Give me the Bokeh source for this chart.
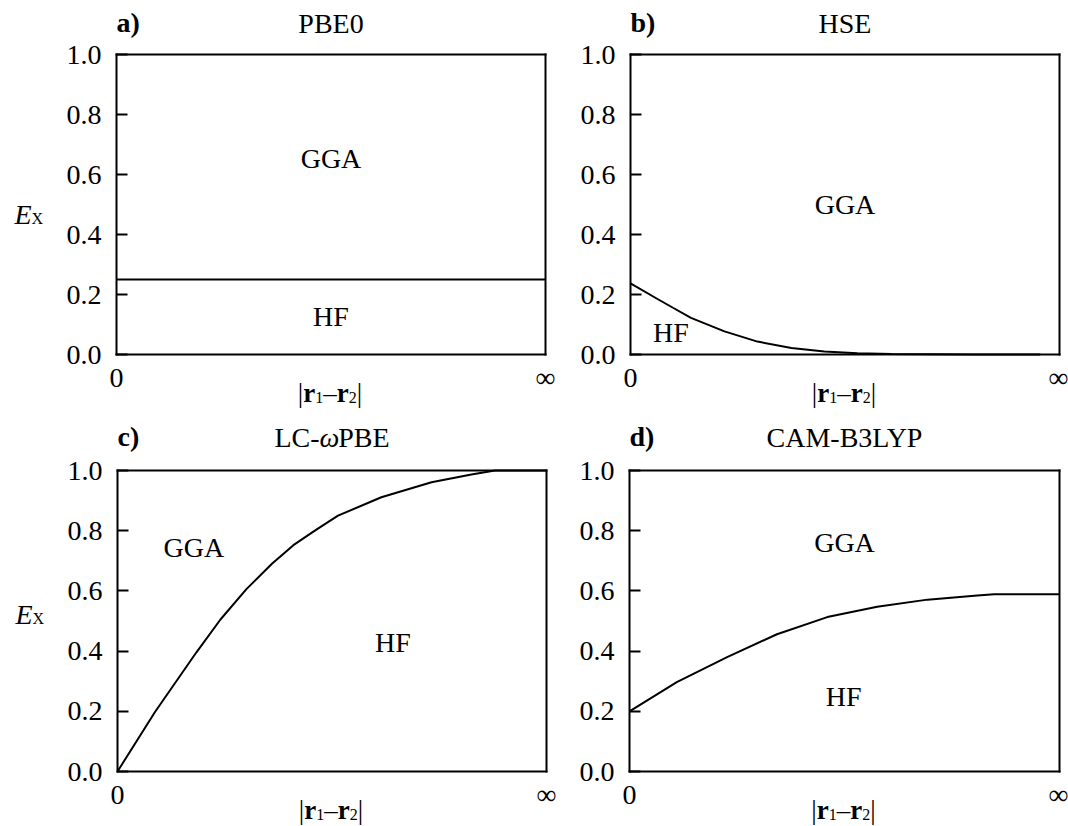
import numpy as np
from bokeh.plotting import figure
from bokeh.layouts import column, row
from bokeh.models import Range1d, FixedTicker, PrintfTickFormatter, LinearAxis
from bokeh.core.properties import value
from bokeh.embed import file_html
from bokeh.resources import INLINE

# ---------------- data ----------------
panel_letters = ["a)", "b)", "c)", "d)"]
panel_titles = ["PBE0", "HSE", "LC-ωPBE", "CAM-B3LYP"]
y_ticks = [0.0, 0.2, 0.4, 0.6, 0.8, 1.0]
x_ticks = [0, 1]
x_tick_labels = ["0", "∞"]

pbe0_x = [0.0, 1.0]
pbe0_y = [0.25, 0.25]

hse_x = [0.0, 0.063, 0.10, 0.141, 0.219, 0.296, 0.375, 0.452, 0.529, 0.608, 0.70, 0.80, 0.955]
hse_y = [0.237, 0.185, 0.155, 0.122, 0.077, 0.043, 0.022, 0.010, 0.004, 0.002, 0.001, 0.0, 0.0]

lc_x = [0.0, 0.087, 0.184, 0.24, 0.30, 0.36, 0.41, 0.46, 0.514, 0.615, 0.732, 0.825, 0.88, 1.0]
lc_y = [0.0, 0.197, 0.396, 0.505, 0.605, 0.69, 0.752, 0.80, 0.85, 0.911, 0.961, 0.987, 1.0, 1.0]

cam_x = [0.0, 0.11, 0.227, 0.343, 0.46, 0.576, 0.693, 0.809, 0.848, 1.0]
cam_y = [0.2, 0.297, 0.38, 0.456, 0.513, 0.547, 0.571, 0.585, 0.589, 0.589]

# region labels: (text, x, y) in data units (baseline, centred)
regions_a = [("GGA", 0.5, 0.655), ("HF", 0.5, 0.128)]
regions_b = [("GGA", 0.5, 0.50), ("HF", 0.094, 0.075)]
regions_c = [("GGA", 0.178, 0.744), ("HF", 0.642, 0.429)]
regions_d = [("GGA", 0.5, 0.76), ("HF", 0.498, 0.248)]

FONT = "Liberation Serif"
BIG = 28
LW = 2
SCALE = {}


def lab(p, x, y, text, dx=0, dy=0, size=BIG, style="normal", align="left"):
    sx, sy = SCALE[p.id]
    p.text(x=[x + dx / sx], y=[y + dy / sy], text=[text],
           text_font=value(FONT), text_font_size=value(f"{size}px"),
           text_font_style=value(style), text_align=value(align),
           text_baseline=value("alphabetic"), text_color="black")


def style_axis(ax):
    ax.axis_line_color = "black"
    ax.axis_line_width = LW
    ax.axis_line_cap = "square"
    ax.minor_tick_line_color = None
    ax.major_label_text_font = FONT
    ax.major_label_text_font_size = f"{BIG}px"
    ax.major_label_text_color = "black"


def make_fig(cell, frame):
    # cell and frame boxes in page pixels: (left, top, right, bottom)
    cx0, cy0, cx1, cy1 = cell
    fx0, fy0, fx1, fy1 = frame
    sx = fx1 - fx0
    sy = fy1 - fy0
    p = figure(width=cx1 - cx0, height=cy1 - cy0,
               x_range=Range1d((cx0 - fx0) / sx, (cx1 - fx0) / sx),
               y_range=Range1d((fy1 - cy1) / sy, (fy1 - cy0) / sy),
               min_border=0, min_border_left=0, min_border_right=0,
               min_border_top=0, min_border_bottom=0,
               x_axis_location=None, y_axis_location=None,
               output_backend="svg", toolbar_location=None, tools="")
    SCALE[p.id] = (sx, sy)
    p.grid.visible = False
    p.outline_line_color = None
    p.background_fill_color = "white"
    p.border_fill_color = "white"

    ya = LinearAxis(fixed_location=0, bounds=(0, 1),
                    ticker=FixedTicker(ticks=y_ticks),
                    formatter=PrintfTickFormatter(format="%.1f"))
    style_axis(ya)
    ya.major_tick_in = 11
    ya.major_tick_out = 0
    ya.major_tick_line_width = LW
    ya.major_tick_line_color = "black"
    ya.major_label_standoff = 15
    p.add_layout(ya, "left")

    xa = LinearAxis(fixed_location=0, bounds=(0, 1),
                    ticker=FixedTicker(ticks=x_ticks))
    style_axis(xa)
    xa.major_label_overrides = {t: s for t, s in zip(x_ticks, x_tick_labels)}
    xa.major_tick_line_color = None
    xa.major_tick_in = 0
    xa.major_tick_out = 0
    xa.major_label_standoff = 7
    p.add_layout(xa, "below")

    for loc in ("right", "above"):
        ax = LinearAxis(fixed_location=1, bounds=(0, 1),
                        ticker=FixedTicker(ticks=[]))
        style_axis(ax)
        ax.major_tick_line_color = None
        ax.major_label_text_color = None
        p.add_layout(ax, loc)
    return p


def x_label(p):
    # |r1–r2| built from pieces: (text, style, size, width, dy)
    pieces = [("|", "normal", 27, 5.4, 0), ("r", "bold", 27, 12.0, 0),
              ("1", "normal", 16, 8.0, -5), ("–", "normal", 27, 13.5, 0),
              ("r", "bold", 27, 12.0, 0), ("2", "normal", 16, 8.0, -5),
              ("|", "normal", 27, 5.4, 0)]
    total = sum(w for _, _, _, w, _ in pieces)
    cur = -total / 2 - 1
    for t, st, sz, w, dy in pieces:
        lab(p, 0.5, 0, t, dx=cur, dy=-38 + dy, size=sz, style=st)
        cur += w


def y_label(p, ypos):
    lab(p, 0, ypos, "E", dx=-102, size=BIG, style="italic")
    lab(p, 0, ypos, "X", dx=-85, dy=-4, size=16)


def title(p, letter, text, tdy):
    lab(p, 0, 1, letter, dx=0, dy=tdy + 1, size=BIG, style="bold")
    if "ω" in text:
        # LC-ωPBE with italic omega
        w1, w2, w3 = 45.1, 18.7, 51.4
        start = -(w1 + w2 + w3) / 2
        lab(p, 0.5, 1, "LC-", dx=start, dy=tdy)
        lab(p, 0.5, 1, "ω", dx=start + w1, dy=tdy, style="italic")
        lab(p, 0.5, 1, "PBE", dx=start + w1 + w2, dy=tdy)
    else:
        lab(p, 0.5, 1, text, dy=tdy, align="center")


def regions(p, regs):
    for t, x, y in regs:
        lab(p, x, y, t, align="center")


pa = make_fig((0, 0, 560, 410), (116, 54, 545, 354))
pa.line(pbe0_x, pbe0_y, line_color="black", line_width=LW)
title(pa, panel_letters[0], panel_titles[0], 31)
regions(pa, regions_a)
x_label(pa)
y_label(pa, 0.467)

pb = make_fig((560, 0, 1068, 410), (630, 54, 1059, 354))
pb.line(hse_x, hse_y, line_color="black", line_width=LW)
title(pb, panel_letters[1], panel_titles[1], 31)
regions(pb, regions_b)
x_label(pb)

pc = make_fig((0, 410, 560, 826), (117, 470, 546, 771))
pc.line(lc_x, lc_y, line_color="black", line_width=LW)
title(pc, panel_letters[2], panel_titles[2], 33)
regions(pc, regions_c)
x_label(pc)
y_label(pc, 0.52)

pd = make_fig((560, 410, 1068, 826), (629, 470, 1059, 771))
pd.line(cam_x, cam_y, line_color="black", line_width=LW)
title(pd, panel_letters[3], panel_titles[3], 33)
regions(pd, regions_d)
x_label(pd)

layout = column(row(pa, pb), row(pc, pd))
open("out.html", "w").write(file_html(layout, INLINE))
